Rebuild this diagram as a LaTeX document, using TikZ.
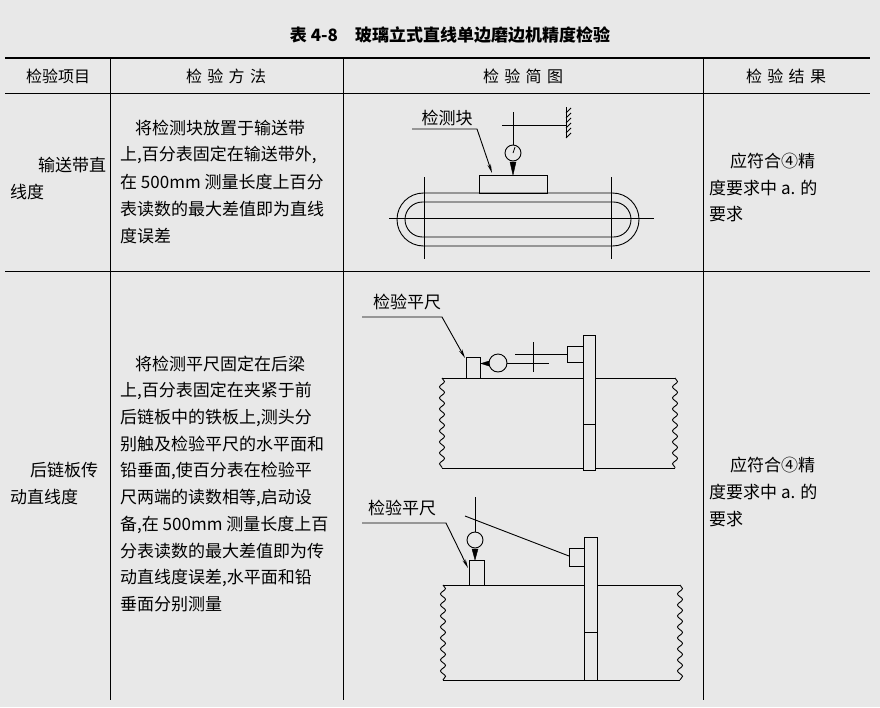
\documentclass[tikz,border=0pt]{standalone}
\usepackage{fontspec}
\setmainfont{Noto Sans CJK SC}
\usetikzlibrary{arrows.meta,decorations.pathmorphing}
\tikzset{
  rule/.style={line width=1.6pt},
  thin/.style={line width=0.8pt},
  fig/.style={line width=0.9pt},
  txt/.style={anchor=west,inner sep=0pt,font=\fontsize{17}{18}\selectfont},
  hdr/.style={inner sep=0pt,font=\fontsize{16}{18}\selectfont},
  lead/.style={fig,-{Stealth[length=9pt,width=3.5pt]}},
  wavy/.style={fig,decorate,decoration={snake,amplitude=2.5pt,segment length=11pt}},
  tip/.style={fill=black}
}
\begin{document}
\begin{tikzpicture}[x=1pt,y=-1pt]
\fill[black!9] (0,0) rectangle (880,707);
\useasboundingbox (0,0) rectangle (880,707);
% title
\node[hdr,font=\bfseries\fontsize{17}{19}\selectfont] (title) at (450,35) {表 4-8\quad 玻璃立式直线单边磨边机精度检验};
% table lines
\draw[rule] (5,58) -- (870,58);
\draw[thin] (5,93) -- (870,93);
\draw[thin] (5,271) -- (870,271);
\foreach \x in {110,343,703} \draw[thin] (\x,58) -- (\x,700);
% header
\node[hdr] (h1) at (58,76) {检验项目};
\node[hdr] (h2) at (226,76) {检\,\,验\,\,方\,\,法};
\node[hdr] (h3) at (523,76) {检\,\,验\,\,简\,\,图};
\node[hdr] (h4) at (786,76) {检\,\,验\,\,结\,\,果};
% row 1 text
\node[txt] (a1) at (38,165) {输送带直};
\node[txt] (a2) at (10,192) {线度};
\node[txt] (m1) at (135,128) {将检测块放置于输送带};
\node[txt] (m2) at (120,155) {上,百分表固定在输送带外,};
\node[txt] (m3) at (120,182) {在 500mm 测量长度上百分};
\node[txt] (m4) at (120,209) {表读数的最大差值即为直线};
\node[txt] (m5) at (120,236) {度误差};
\node[txt] (r1) at (730,161) {应符合④精};
\node[txt] (r2) at (709,188) {度要求中 a. 的};
\node[txt] (r3) at (709,214) {要求};
% row 2 text
\node[txt] (b1) at (30,470) {后链板传};
\node[txt] (b2) at (10,497) {动直线度};
\foreach \t [count=\i from 0] in {{上,百分表固定在夹紧于前},{后链板中的铁板上,测头分},{别触及检验平尺的水平面和},{铅垂面,使百分表在检验平},{尺两端的读数相等,启动设},{备,在 500mm 测量长度上百},{分表读数的最大差值即为传},{动直线度误差,水平面和铅},{垂面分别测量}}
  \node[txt] at (120,{391+26.7*\i}) {\t};
\node[txt] (n1) at (135,364) {将检测平尺固定在后梁};
\node[txt] (s1) at (730,465) {应符合④精};
\node[txt] (s2) at (709,492) {度要求中 a. 的};
\node[txt] (s3) at (709,519) {要求};
% ---------- diagram 1 ----------
\draw[fig] (479,193) rectangle (547,175);
\draw[fig,rounded corners=26.5pt] (397,193) rectangle (639,246);
\draw[fig,rounded corners=17.5pt] (405,202) rectangle (631,237);
\draw[thin] (389,218) -- (654,218);
\draw[thin] (424,177) -- (424,259);
\draw[thin] (611,177) -- (611,259);
\node[fig,draw,circle,minimum size=16pt,inner sep=0pt] (g1) at (513,153) {};
\draw[fig] (g1.north) -- (513,112);
\draw[fig] (502,125) -- (566,125);
\draw[fig] (566,107) -- (566,138);
\foreach \y in {108,113,...,136} \draw[thin] (566,\y+5) -- (571,\y);
\draw[tip] (510,162) -- (516,162) -- (513,175) -- cycle;
\draw[thin] (513,153) -- (515,147);
\node[txt,anchor=center] (lab1) at (447,118) {检测块};
\coordinate (l1a) at (412,129);
\draw[lead] (l1a) -- (477,129) -- (492,173);
% ---------- diagram 2 top ----------
\draw[fig] (466,378) rectangle (480,357);
\node[fig,draw,circle,minimum size=18pt,inner sep=0pt] (g2) at (498,363) {};
\draw[tip] (489,361) -- (489,366) -- (481,363.5) -- cycle;
\draw[fig] (g2.east) -- (549,363);
\draw[fig] (515,354) -- (567,354);
\draw[fig] (533,342) -- (533,372);
\draw[fig] (567,346) rectangle (583,362);
\draw[fig] (583,335) rectangle (595,470);
\draw[fig] (583,424) -- (595,424);
\draw[fig] (442,378) -- (583,378) (595,378) -- (675,378);
\draw[fig] (442,468) -- (583,468) (595,468) -- (675,468);
\draw[wavy] (442,378) -- (442,468);
\draw[wavy] (675,378) -- (675,468);
\node[txt,anchor=center] (lab2) at (407,302) {检验平尺};
\coordinate (l2a) at (362,317);
\draw[lead] (l2a) -- (442,317) -- (465,358);
% ---------- diagram 2 bottom ----------
\draw[fig] (469,585) rectangle (484,560);
\node[fig,draw,circle,minimum size=16pt,inner sep=0pt] (g3) at (475,540) {};
\draw[fig] (g3.north) -- (475,497);
\draw[tip] (472,549) -- (478,549) -- (475,560) -- cycle;
\draw[fig] (465,516) -- (569,556);
\draw[fig] (569,548) rectangle (584,566);
\draw[fig] (584,537) rectangle (597,680);
\draw[fig] (584,632) -- (597,632);
\draw[fig] (443,585) -- (584,585) (597,585) -- (680,585);
\draw[fig] (443,680) -- (584,680) (597,680) -- (680,680);
\draw[wavy] (443,585) -- (443,680);
\draw[wavy] (680,585) -- (680,680);
\node[txt,anchor=center] (lab3) at (402,508) {检验平尺};
\coordinate (l3a) at (362,523);
\draw[lead] (l3a) -- (446,523) -- (468,568);
\end{tikzpicture}
\end{document}
